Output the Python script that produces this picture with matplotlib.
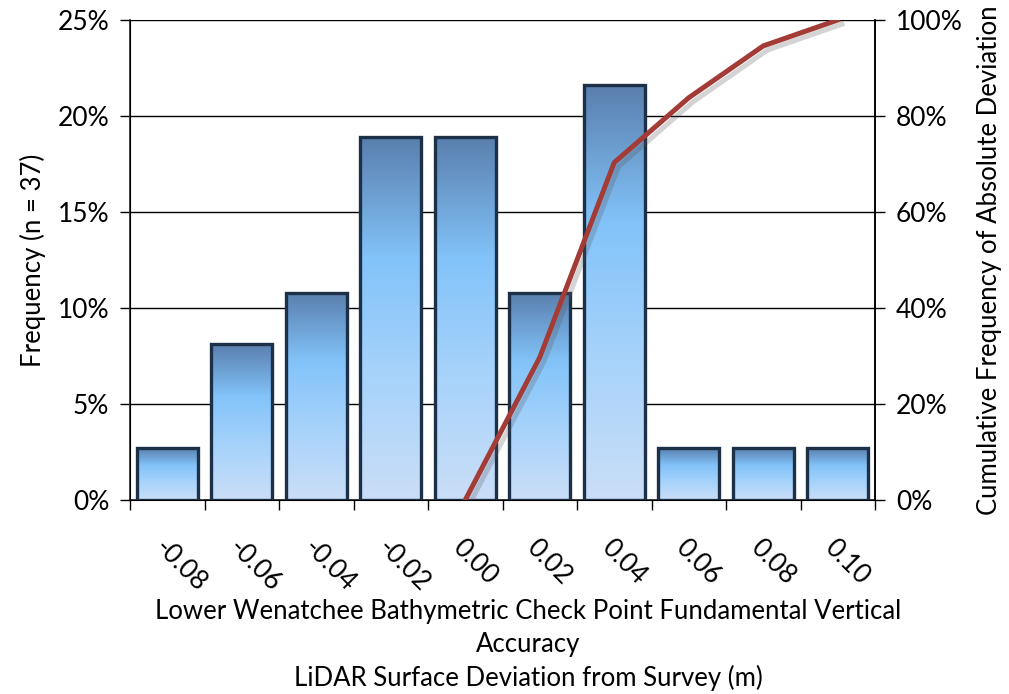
import numpy as np
import matplotlib.pyplot as plt
import matplotlib.patheffects as pe
from matplotlib.colors import LinearSegmentedColormap
from matplotlib.ticker import FuncFormatter

plt.rcParams['font.family'] = ['Lato', 'DejaVu Sans']

# data
bins = ['-0.08', '-0.06', '-0.04', '-0.02', '0.00', '0.02', '0.04', '0.06', '0.08', '0.10']
freq = [2.7, 8.1, 10.8, 18.9, 18.9, 10.8, 21.6, 2.7, 2.7, 2.7]   # % of 37 points
cum_bins = ['0.00', '0.02', '0.04', '0.06', '0.08', '0.10']
cum_freq = [0.0, 29.7, 70.3, 83.8, 94.6, 100.0]                 # cumulative %

fs_tick = 19
fs_lab = 18.5

fig = plt.figure(figsize=(10.09, 6.94), dpi=100)
ax = fig.add_axes([130/1009, 1-500/694, 745/1009, 480/694])

x = np.arange(len(bins))
bars = ax.bar(x, freq, width=0.82, color='none', edgecolor='#1c3048', linewidth=2.4, zorder=3)

# vertical gradient inside each bar (dark top -> light bottom)
cmap = LinearSegmentedColormap.from_list('bar', ['#cadef7', '#a8d3fb', '#82c3f9', '#5a7fae'])
grad = np.linspace(0, 1, 256).reshape(-1, 1)
for b in bars:
    x0, w, h = b.get_x(), b.get_width(), b.get_height()
    im = ax.imshow(grad, cmap=cmap, origin='lower', aspect='auto',
                   extent=[x0, x0 + w, 0, h], zorder=2)
    im.set_clip_path(b)

ax.set_xlim(-0.5, len(bins) - 0.5)
ax.set_ylim(0, 25)
ax.set_yticks(np.arange(0, 26, 5))
ax.yaxis.set_major_formatter(FuncFormatter(lambda v, p: '%d%%' % v))
ax.grid(axis='y', color='black', linewidth=1.0, zorder=1)
ax.set_axisbelow(True)

ax.set_xticks(x)
ax.set_xticklabels(bins, rotation=-45, ha='left', va='top', rotation_mode='anchor')
ax.set_xticks(np.arange(-0.5, len(bins)), minor=True)
ax.tick_params(axis='x', which='major', length=0, pad=25, labelsize=fs_tick)
ax.tick_params(axis='x', which='minor', length=7, width=1, direction='out')
ax.tick_params(axis='y', length=7, width=1, labelsize=fs_tick, pad=8)
ax.spines['top'].set_visible(False)
for s in ['left', 'right', 'bottom']:
    ax.spines[s].set_linewidth(1.2)
    ax.spines[s].set_color('#222222')
ax.set_ylabel('Frequency (n = 37)', fontsize=fs_lab, labelpad=8)

ax2 = ax.twinx()
cx = [bins.index(b) for b in cum_bins]
ax2.plot(cx, cum_freq, color='#a33b36', linewidth=3.6, solid_joinstyle='round',
         path_effects=[pe.SimpleLineShadow(offset=(3, -3), alpha=0.25, shadow_color='#555555'),
                       pe.Normal()], zorder=5)
ax2.set_ylim(0, 100)
ax2.set_yticks(np.arange(0, 101, 20))
ax2.yaxis.set_major_formatter(FuncFormatter(lambda v, p: '%d%%' % v))
ax2.tick_params(axis='y', length=7, width=1, labelsize=fs_tick, pad=8)
ax2.spines['top'].set_visible(False)
ax2.spines['right'].set_linewidth(1.2)
ax2.set_ylabel('Cumulative Frequency of Absolute Deviation', fontsize=fs_lab, labelpad=10)

fig.text(528/1009, 1-645/694,
         'Lower Wenatchee Bathymetric Check Point Fundamental Vertical\nAccuracy\nLiDAR Surface Deviation from Survey (m)',
         ha='center', va='center', fontsize=fs_lab, linespacing=1.4)

fig.savefig('out.png', dpi=100)
